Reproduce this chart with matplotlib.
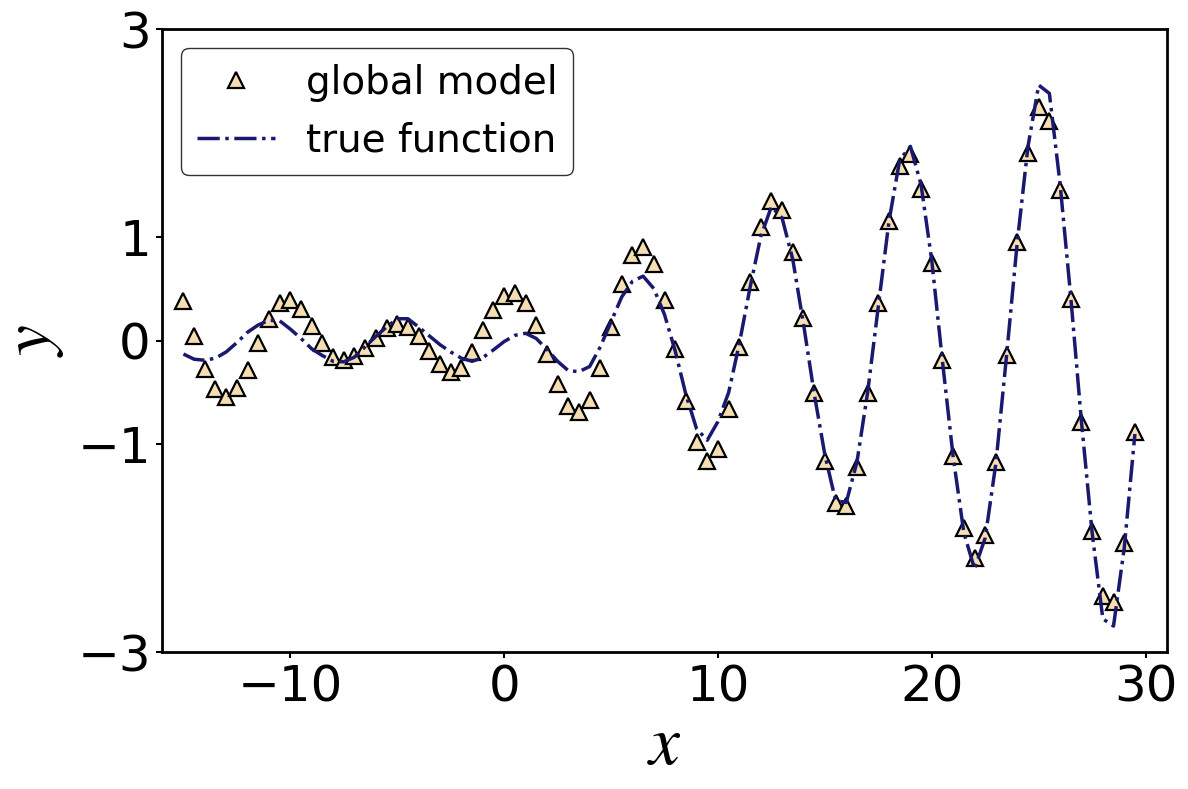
import numpy as np
import matplotlib
matplotlib.use("Agg")
import matplotlib.pyplot as plt

plt.rcParams['mathtext.fontset'] = 'stix'

# sample grid (step 0.5)
x = np.arange(-15, 30, 0.5)

# global model prediction
model_y = [0.385, 0.04, -0.27, -0.47, -0.545, -0.46, -0.28, -0.026, 0.21, 0.36,
           0.39, 0.30, 0.144, -0.026, -0.154, -0.186, -0.15, -0.074, 0.026, 0.12,
           0.16, 0.128, 0.04, -0.10, -0.23, -0.30, -0.263, -0.106, 0.10, 0.295,
           0.43, 0.46, 0.36, 0.15, -0.13, -0.42, -0.63, -0.69, -0.57, -0.266,
           0.135, 0.545, 0.82, 0.897, 0.74, 0.39, -0.08, -0.58, -0.975, -1.16,
           -1.04, -0.657, -0.064, 0.567, 1.09, 1.346, 1.256, 0.85, 0.215, -0.51,
           -1.16, -1.56, -1.59, -1.22, -0.51, 0.36, 1.15, 1.68, 1.80, 1.46,
           0.75, -0.19, -1.11, -1.81, -2.09, -1.87, -1.17, -0.14, 0.95, 1.81,
           2.25, 2.11, 1.45, 0.40, -0.785, -1.83, -2.46, -2.52, -1.95, -0.88]

# true function
true_y = [-0.13, -0.18, -0.19, -0.17, -0.11, -0.02, 0.08, 0.15, 0.195, 0.19,
          0.11, 0.02, -0.08, -0.145, -0.20, -0.205, -0.16, -0.06, 0.04, 0.13,
          0.21, 0.21, 0.13, 0.045, -0.04, -0.11, -0.17, -0.20, -0.165, -0.09,
          -0.01, 0.05, 0.07, 0.02, -0.085, -0.20, -0.29, -0.30, -0.25, -0.06,
          0.18, 0.42, 0.57, 0.62, 0.50, 0.25, -0.10, -0.52, -0.85, -0.96,
          -0.78, -0.50, -0.03, 0.51, 1.00, 1.29, 1.18, 0.78, 0.16, -0.51,
          -1.10, -1.54, -1.56, -1.17, -0.50, 0.33, 1.15, 1.74, 1.87, 1.50,
          0.77, -0.20, -1.12, -1.85, -2.20, -1.90, -1.18, -0.14, 0.95, 1.87,
          2.46, 2.38, 1.51, 0.42, -0.78, -1.85, -2.68, -2.75, -2.00, -0.90]

xticks = [-10, 0, 10, 20, 30]
yticks = [-3, -1, 0, 1, 3]

fig = plt.figure(figsize=(11.88, 7.89), dpi=100)
ax = fig.add_axes([0.1364, 0.1736, 0.8459, 0.7896])

ax.plot(x, model_y, '^', color='wheat', markeredgecolor='k', markersize=11.5,
        markeredgewidth=1.6, label='global model')
ax.plot(x, true_y, '-.', color='midnightblue', linewidth=2.5, label='true function')

ax.set_xlim(-16, 31)
ax.set_ylim(-3, 3)
ax.set_xticks(xticks)
ax.set_yticks(yticks)
ax.tick_params(labelsize=36, width=1.5, length=4.5)
for s in ax.spines.values():
    s.set_linewidth(2)

ax.set_xlabel('$x$', fontsize=50, labelpad=0)
ax.set_ylabel('$y$', fontsize=50, labelpad=8)

ax.legend(loc='upper left', fontsize=28, numpoints=1, edgecolor='k')

fig.savefig('out.png', dpi=100)
